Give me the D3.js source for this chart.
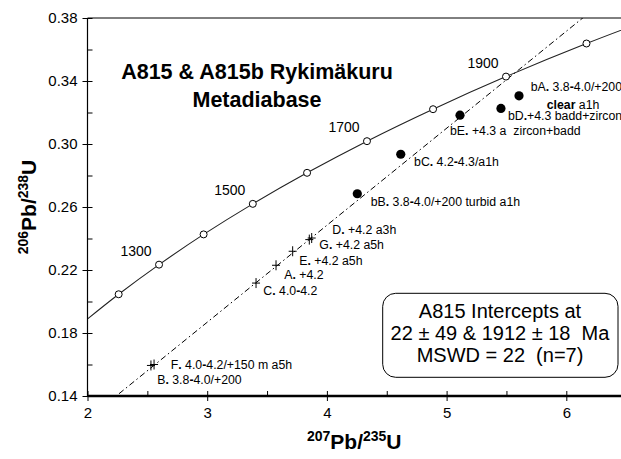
<!DOCTYPE html>
<html>
<head>
<meta charset="utf-8">
<script src="https://cdn.jsdelivr.net/npm/d3@7"></script>
<style>
  html, body { margin: 0; padding: 0; background: #fff; }
  svg { display: block; font-family: "Liberation Sans", Arial, Helvetica, sans-serif; }
  text { white-space: pre; }
</style>
</head>
<body>
<svg id="chart" width="621" height="459"></svg>
<script>
// Concordia reference ages (Ma) and their ratios
const concordiaAges = [1100, 1200, 1300, 1400, 1500, 1600, 1700, 1800, 1900, 2000, 2100];
const concordiaX = [1.9545, 2.2603, 2.5977, 2.9700, 3.3810, 3.8344, 4.3348, 4.8869, 5.4962, 6.1685, 6.9105];
const concordiaY = [0.1861, 0.2046, 0.2234, 0.2426, 0.2620, 0.2817, 0.3018, 0.3221, 0.3428, 0.3638, 0.3851];
const markerAges = [1200, 1300, 1400, 1500, 1600, 1700, 1800, 1900, 2000];
const labelledAges = [1300, 1500, 1700, 1900];

// Discordia intercepts: 22 Ma and 1912 Ma
const interceptX = [0.0219, 5.5734];
const interceptY = [0.00342, 0.3453];

// Zircon fractions
const fractionIds = ["bA", "bD", "bE", "bC", "bB", "D", "G", "E", "A", "C", "F", "B"];
const fractionX = [5.605, 5.454, 5.112, 4.617, 4.254, 3.873, 3.853, 3.714, 3.575, 3.408, 2.556, 2.530];
const fractionY = [0.3306, 0.3226, 0.3183, 0.2935, 0.2684, 0.2403, 0.2393, 0.2319, 0.2230, 0.2117, 0.1600, 0.1594];
const fractionKind = ["dot", "dot", "dot", "dot", "dot", "cross", "cross", "cross", "cross", "cross", "cross", "cross"];
const fractionLabels = [
  "bA. 3.8-4.0/+200",
  "bD.+4.3 badd+zircon",
  "bE. +4.3 a  zircon+badd",
  "bC. 4.2-4.3/a1h",
  "bB. 3.8-4.0/+200 turbid a1h",
  "D. +4.2 a3h",
  "G. +4.2 a5h",
  "E. +4.2 a5h",
  "A. +4.2",
  "C. 4.0-4.2",
  "F. 4.0-4.2/+150 m a5h",
  "B. 3.8-4.0/+200"
];

// Axis ticks
const xMajorTicks = [2, 3, 4, 5, 6];
const xMinorTicks = [2.5, 3.5, 4.5, 5.5, 6.5];
const yMajorTicks = [0.14, 0.18, 0.22, 0.26, 0.30, 0.34, 0.38];
const yMinorTicks = [0.16, 0.20, 0.24, 0.28, 0.32, 0.36];
const yTickLabels = ["0.14", "0.18", "0.22", "0.26", "0.30", "0.34", "0.38"];

const titleLines = ["A815 & A815b Rykimäkuru", "Metadiabase"];
const resultLines = ["A815 Intercepts at", "22 ± 49 & 1912 ± 18  Ma", "MSWD = 22  (n=7)"];

// Label placement relative to each mark (start x, baseline y)
const labelOffset = {
  bA: [11.7, -5], bD: [7, 11.7], bE: [-10, 20.3], bC: [13.3, 12], bB: [13.4, 12.3],
  D: [20.6, -4.1], G: [10, 9], E: [6.6, 13.3], A: [8.3, 13.3], C: [7.3, 12.3],
  F: [16.7, 4.3], B: [6.3, 18.3]
};

const plot = { left: 87.5, right: 621, top: 18, bottom: 396 };
const svg = d3.select("#chart");

const x = d3.scaleLinear().domain([2, 2 + (plot.right - plot.left) / 119.7]).range([plot.left, plot.right]);
const y = d3.scaleLinear().domain([0.14, 0.38]).range([plot.bottom, plot.top]);

svg.append("defs").append("clipPath").attr("id", "plotClip")
  .append("rect")
  .attr("x", plot.left).attr("y", plot.top)
  .attr("width", plot.right - plot.left).attr("height", plot.bottom - plot.top);

// Top frame line
svg.append("line")
  .attr("x1", plot.left).attr("x2", plot.right)
  .attr("y1", plot.top).attr("y2", plot.top)
  .attr("stroke", "#000").attr("stroke-width", 1);

// Concordia curve
const concordia = concordiaAges.map((a, i) => [concordiaX[i], concordiaY[i]]);
svg.append("path")
  .datum(concordia)
  .attr("clip-path", "url(#plotClip)")
  .attr("fill", "none")
  .attr("stroke", "#222")
  .attr("stroke-width", 1.1)
  .attr("d", d3.line().x(d => x(d[0])).y(d => y(d[1])).curve(d3.curveCatmullRom.alpha(0.5)));

// Discordia through both intercepts, extended across the plot
const slope = (interceptY[1] - interceptY[0]) / (interceptX[1] - interceptX[0]);
const lineAt = v => interceptY[0] + slope * (v - interceptX[0]);
const [x0, x1] = x.domain();
svg.append("line")
  .attr("clip-path", "url(#plotClip)")
  .attr("x1", x(x0)).attr("y1", y(lineAt(x0)))
  .attr("x2", x(x1)).attr("y2", y(lineAt(x1)))
  .attr("stroke", "#000")
  .attr("stroke-width", 1)
  .attr("stroke-dasharray", "6,3,1.5,3");

// Age markers on concordia
const markers = markerAges.map(a => {
  const i = concordiaAges.indexOf(a);
  return { age: a, cx: concordiaX[i], cy: concordiaY[i] };
});
svg.append("g").selectAll("circle")
  .data(markers).join("circle")
  .attr("cx", d => x(d.cx)).attr("cy", d => y(d.cy))
  .attr("r", 3.5)
  .attr("fill", "#fff").attr("stroke", "#000").attr("stroke-width", 1);

svg.append("g").selectAll("text")
  .data(markers.filter(d => labelledAges.includes(d.age))).join("text")
  .attr("x", d => x(d.cx) - 23).attr("y", d => y(d.cy) - 9)
  .attr("text-anchor", "middle")
  .attr("font-size", 14)
  .text(d => d.age);

// Fractions
const fractions = fractionIds.map((id, i) => ({
  id, fx: fractionX[i], fy: fractionY[i], kind: fractionKind[i], label: fractionLabels[i]
}));

svg.append("g").selectAll("circle")
  .data(fractions.filter(d => d.kind === "dot")).join("circle")
  .attr("cx", d => x(d.fx)).attr("cy", d => y(d.fy))
  .attr("r", 4.6)
  .attr("fill", "#000");

const crosses = svg.append("g").selectAll("g")
  .data(fractions.filter(d => d.kind === "cross")).join("g")
  .attr("transform", d => `translate(${x(d.fx)},${y(d.fy)})`)
  .attr("stroke", "#000").attr("stroke-width", 1);
crosses.append("line").attr("x1", -4).attr("x2", 4).attr("y1", 0).attr("y2", 0);
crosses.append("line").attr("x1", 0).attr("x2", 0).attr("y1", -5).attr("y2", 5);

function writeLabel(sel, str) {
  const m = str.match(/^([A-Za-z]+)(\.)(.*)$/);
  sel.append("tspan").text(m[1]);
  sel.append("tspan").attr("font-weight", "bold").text(m[2]);
  m[3].split("-").forEach((part, k) => {
    if (k > 0) sel.append("tspan").attr("font-weight", "bold").text("-");
    sel.append("tspan").text(part);
  });
}

svg.append("g").selectAll("text")
  .data(fractions).join("text")
  .attr("x", d => x(d.fx) + labelOffset[d.id][0])
  .attr("y", d => y(d.fy) + labelOffset[d.id][1])
  .attr("font-size", 12.3)
  .each(function (d) { writeLabel(d3.select(this), d.label); });

// Extra note under fraction bA
const bA = fractions[0];
const note = svg.append("text")
  .attr("x", x(bA.fx) + 27.7).attr("y", y(bA.fy) + 13)
  .attr("font-size", 12.3);
note.append("tspan").attr("font-weight", "bold").text("clear");
note.append("tspan").text(" a1h");

// Title
svg.append("g").selectAll("text")
  .data(titleLines).join("text")
  .attr("x", 257).attr("y", (d, i) => 79 + i * 28)
  .attr("text-anchor", "middle")
  .attr("font-size", 21.5).attr("font-weight", "bold")
  .text(d => d);

// Result box
svg.append("rect")
  .attr("x", 382.7).attr("y", 293.3).attr("width", 235.3).attr("height", 84)
  .attr("rx", 13).attr("ry", 13)
  .attr("fill", "#fff").attr("stroke", "#000").attr("stroke-width", 1);
svg.append("g").selectAll("text")
  .data(resultLines).join("text")
  .attr("x", 500).attr("y", (d, i) => 318 + i * 22)
  .attr("text-anchor", "middle")
  .attr("font-size", 20)
  .text(d => d);

// X axis
const xAxis = svg.append("g").attr("transform", `translate(0,${plot.bottom})`)
  .call(d3.axisBottom(x).tickValues(xMajorTicks).tickSize(5).tickPadding(6).tickFormat(d3.format("d")));
xAxis.select(".domain").attr("stroke-width", 2.5).attr("d", `M${plot.left},0H${plot.right}`);
xAxis.selectAll(".tick line").attr("y1", -5).attr("y2", 5).attr("stroke-width", 1);
xAxis.selectAll(".tick text").attr("font-size", 15).attr("font-family", null).attr("dy", "0.71em");
svg.append("g").attr("transform", `translate(0,${plot.bottom})`)
  .call(d3.axisBottom(x).tickValues(xMinorTicks.filter(v => v <= x.domain()[1])).tickSize(-5).tickFormat(""))
  .call(g => g.select(".domain").remove());

// Y axis
const yAxis = svg.append("g").attr("transform", `translate(${plot.left},0)`)
  .call(d3.axisLeft(y).tickValues(yMajorTicks).tickSize(5).tickPadding(5)
    .tickFormat((d, i) => yTickLabels[i]));
yAxis.select(".domain").attr("stroke-width", 1.2).attr("d", `M0,${plot.bottom}V${plot.top}`);
yAxis.selectAll(".tick line").attr("x1", -5).attr("x2", 5);
yAxis.selectAll(".tick text").attr("font-size", 15).attr("font-family", null);
svg.append("g").attr("transform", `translate(${plot.left},0)`)
  .call(d3.axisLeft(y).tickValues(yMinorTicks).tickSize(-5).tickFormat(""))
  .call(g => g.select(".domain").remove());

// Axis titles with isotope superscripts
function isotopeTitle(sel, parts) {
  parts.forEach(([txt, sup]) => {
    sel.append("tspan")
      .attr("font-size", sup ? 14 : 21)
      .attr("dy", sup ? -8 : 8)
      .text(txt);
  });
}
// the text's y is the baseline of the full-size characters
const xTitle = svg.append("text")
  .attr("x", (plot.left + plot.right) / 2).attr("y", 449)
  .attr("text-anchor", "middle").attr("font-weight", "bold");
isotopeTitle(xTitle, [["207", true], ["Pb/", false], ["235", true], ["U", false]]);

const yTitle = svg.append("text")
  .attr("transform", `translate(36,${(plot.top + plot.bottom) / 2}) rotate(-90)`)
  .attr("text-anchor", "middle").attr("font-weight", "bold");
isotopeTitle(yTitle, [["206", true], ["Pb/", false], ["238", true], ["U", false]]);
</script>
</body>
</html>
